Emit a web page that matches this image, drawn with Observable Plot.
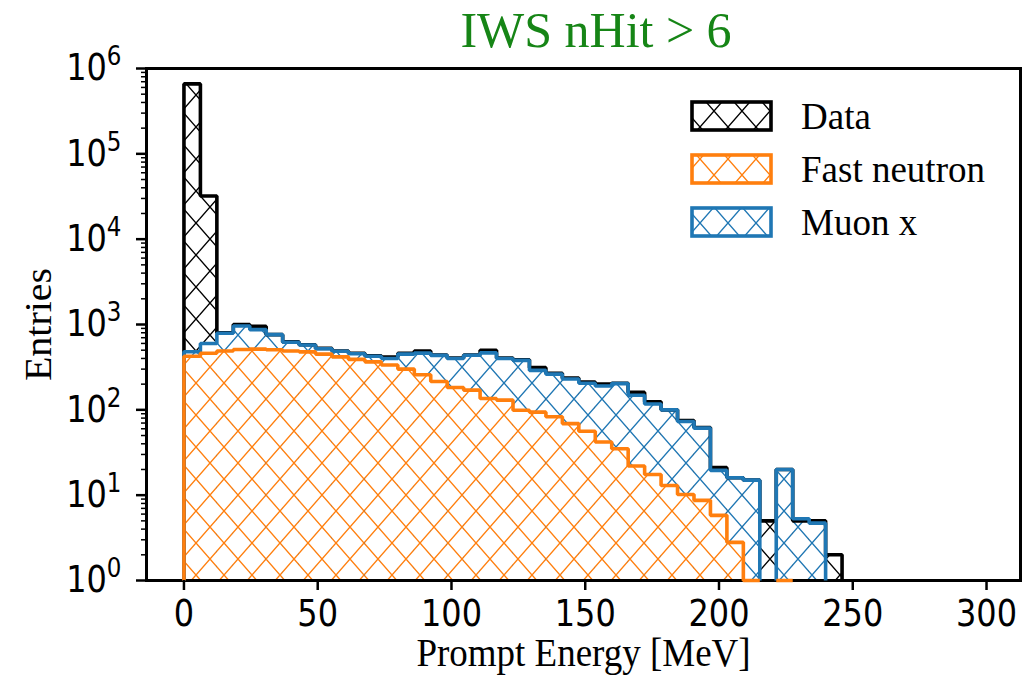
<!DOCTYPE html>
<html>
<head>
<meta charset="utf-8">
<script src="https://cdn.jsdelivr.net/npm/d3@7"></script>
<script src="https://cdn.jsdelivr.net/npm/@observablehq/plot@0.6"></script>
<style>
  html, body { margin: 0; padding: 0; background: #ffffff; }
  #title {
    height: 60px; width: 1028px; box-sizing: border-box; padding-left: 164px;
    text-align: center; white-space: nowrap;
    font-family: "Liberation Serif", "Times New Roman", serif;
    font-size: 50px; line-height: 60px; color: #168516;
  }
  #chart svg { display: block; }
</style>
</head>
<body>
<div id="title">IWS nHit &gt; 6</div>
<div id="chart"></div>
<script>
// ---------------- data ----------------
const binEdges = [0, 6.15, 12.3, 18.45, 24.6, 30.75, 36.9, 43.05, 49.2, 55.35,
  61.5, 67.65, 73.8, 79.95, 86.1, 92.25, 98.4, 104.55, 110.7, 116.85,
  123, 129.15, 135.3, 141.45, 147.6, 153.75, 159.9, 166.05, 172.2, 178.35,
  184.5, 190.65, 196.8, 202.95, 209.1, 215.25, 221.4, 227.55, 233.7, 239.85, 246];

const dataCounts = [660000, 32000, 800, 1000, 950, 760, 625, 580, 525, 490,
  460, 430, 415, 460, 490, 440, 405, 440, 500, 405,
  385, 312, 268, 236, 212, 200, 205, 160, 124, 100,
  75, 62, 21, 16, 15, 5, 20, 5, 5, 2];

const fastNeutron = [425, 460, 490, 510, 515, 505, 490, 478, 450, 418,
  390, 365, 335, 300, 258, 215, 183, 170, 136, 130,
  99, 94, 83, 69, 56, 42, 35, 22, 17.5, 13,
  10.2, 8.7, 5.8, 2.8, 1, 0, 1, 0, 0, 0];

const muonX = [55, 140, 300, 450, 355, 255, 130, 97, 70, 67,
  65, 60, 65, 150, 204, 220, 217, 267, 329, 270,
  281, 196, 179, 161, 149, 148, 168, 126, 99.5, 87,
  62.8, 52.3, 13.7, 13.2, 14, 0, 19, 5.3, 4.7, 0];

const xTicks = [0, 50, 100, 150, 200, 250, 300];
const yTicks = [1, 10, 100, 1000, 10000, 100000, 1000000];
const yTickBase = "10";
const yTickExponents = ["0", "1", "2", "3", "4", "5", "6"];
const seriesNames = ["Data", "Fast neutron", "Muon x"];
const seriesColors = ["#000000", "#ff7f0e", "#1f77b4"];
const xLabel = "Prompt Energy [MeV]";
const yLabel = "Entries";

// ---------------- derived ----------------
const stackTop = fastNeutron.map((v, i) => v + muonX[i]);   // stacked: fast neutron + muon
const yMinor = [];
for (let k = 0; k < 6; k++) for (let m = 2; m < 10; m++) yMinor.push(m * Math.pow(10, k));

function bars(values) {
  return values.map((v, i) => ({x1: binEdges[i], x2: binEdges[i + 1], y2: v})).filter(d => d.y2 > 0);
}
function outline(values) {
  const pts = [];
  let prev = 0;
  for (let i = 0; i < values.length; i++) {
    const v = values[i];
    if (v > 0) {
      if (!(prev > 0)) pts.push({x: binEdges[i], y: 1});
      pts.push({x: binEdges[i], y: v}, {x: binEdges[i + 1], y: v});
    } else if (prev > 0) {
      pts.push({x: binEdges[i], y: 1}, {x: binEdges[i], y: NaN});
    }
    prev = v;
  }
  if (prev > 0) pts.push({x: binEdges[values.length], y: 1});
  return pts;
}

const W = 1028, H = 617;
const serif = "'Liberation Serif', 'Times New Roman', serif";
const lineOpts = {x: "x", y: "y", strokeWidth: 3.6, strokeLinejoin: "miter", strokeLinecap: "butt"};
const rectOpts = {x1: "x1", x2: "x2", y1: 1, y2: "y2", inset: 0};

const svg = Plot.plot({
  width: W, height: H,
  marginTop: 8, marginBottom: 97, marginLeft: 146, marginRight: 8,
  style: {fontFamily: "'DejaVu Sans', sans-serif", fontSize: "32px", color: "black", background: "white", overflow: "visible"},
  x: {domain: [-14, 312.7], label: null},
  y: {type: "log", domain: [1, 1e6], label: null},
  marks: [
    Plot.rect(bars(dataCounts), {...rectOpts, fill: "url(#hatch-data)"}),
    Plot.rect(bars(stackTop), {...rectOpts, fill: "url(#hatch-muon)"}),
    Plot.rect(bars(fastNeutron), {...rectOpts, fill: "url(#hatch-fast)"}),
    Plot.frame({stroke: "black", strokeWidth: 3}),
    Plot.line(outline(dataCounts), {...lineOpts, stroke: seriesColors[0]}),
    Plot.line(outline(stackTop), {...lineOpts, stroke: seriesColors[2]}),
    Plot.line(outline(fastNeutron), {...lineOpts, stroke: seriesColors[1]}),
    Plot.axisX(xTicks, {tickSize: 10, tickPadding: 9, strokeWidth: 2.5, label: null, tickFormat: d => String(d)}),
    Plot.axisY(yMinor, {tickSize: 5, strokeWidth: 1.5, label: null, tickFormat: () => ""}),
    Plot.axisY(yTicks, {tickSize: 10, tickPadding: 15, strokeWidth: 2.5, label: null,
      tickFormat: d => yTickBase + "^" + yTickExponents[Math.round(Math.log10(d))]}),
    Plot.text([xLabel], {frameAnchor: "bottom", dy: 85, lineAnchor: "bottom", textAnchor: "middle", text: d => d,
      fontFamily: serif, fontSize: 37, fill: "black"}),
    Plot.text([yLabel], {frameAnchor: "left", dx: -122, rotate: -90, lineAnchor: "top", textAnchor: "middle", text: d => d,
      fontFamily: serif, fontSize: 37, fill: "black"})
  ]
});

const root = d3.select(svg);

// hatch patterns
const defs = root.insert("defs", ":first-child");
function hatch(id, color, bg) {
  const pw = 28, ph = 32;
  const p = defs.append("pattern").attr("id", id).attr("patternUnits", "userSpaceOnUse")
    .attr("x", 196 % pw).attr("y", 515 % ph).attr("width", pw).attr("height", ph);
  if (bg) p.append("rect").attr("width", pw).attr("height", ph).attr("fill", bg);
  p.append("path").attr("d", `M0,0L${pw},${ph}M${pw},0L0,${ph}`)
    .attr("stroke", color).attr("stroke-width", 1.4).attr("fill", "none");
}
hatch("hatch-data", "#000000", null);
hatch("hatch-fast", "#ff7f0e", "#ffffff");
hatch("hatch-muon", "#1f77b4", "#ffffff");

// y tick labels as 10 with a raised exponent
root.selectAll("text").each(function () {
  const m = /^10\^(\d)$/.exec(this.textContent);
  if (m) {
    this.textContent = yTickBase;
    d3.select(this).append("tspan").attr("font-size", 23).attr("dy", -13).text(m[1]);
  }
});

// vertical stretch of the text, as in the reference image
root.selectAll("text").each(function () {
  const ff = this.getAttribute("font-family") || (this.parentNode.getAttribute && this.parentNode.getAttribute("font-family")) || "";
  const sy = /Liberation Serif/.test(ff) ? 1.08 : 1.15;
  const tr = this.getAttribute("transform");
  if (tr && /translate\(/.test(tr)) {
    this.setAttribute("transform", tr.replace(/(translate\([^)]*\))/, `$1 scale(1,${sy})`));
  }
});

// legend
const legendIds = ["hatch-data", "hatch-fast", "hatch-muon"];
const legendRowY = [42, 95, 148];
const lg = root.append("g").attr("class", "legend").attr("text-anchor", "start");
seriesNames.forEach((name, i) => {
  lg.append("rect").attr("x", 692).attr("y", legendRowY[i]).attr("width", 79).attr("height", 28)
    .attr("fill", `url(#${legendIds[i]})`).attr("stroke", seriesColors[i]).attr("stroke-width", 3.6);
  lg.append("text").attr("transform", `translate(801,${legendRowY[i] + 27})`)
    .attr("text-anchor", "start")
    .attr("font-family", serif).attr("font-size", 37).attr("fill", "black").text(name);
});

document.getElementById("chart").appendChild(svg);
</script>
</body>
</html>
